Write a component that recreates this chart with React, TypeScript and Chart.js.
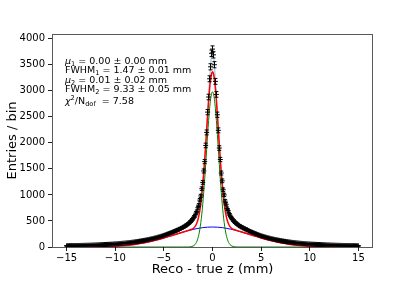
import React, { useEffect, useRef } from "react";
import { Chart, registerables } from "chart.js";

Chart.register(...registerables);

// Histogram binning (bin centres from -15 to 15 mm)
const BIN_START = -15;
const BIN_WIDTH = 0.1;

// Entries per bin (x = -15.0 ... 15.0)
const counts = [
  23, 24, 24, 25, 25, 26, 26, 26, 27, 27,
  28, 28, 29, 29, 30, 30, 31, 31, 32, 32,
  33, 33, 34, 35, 35, 36, 36, 37, 38, 39,
  39, 40, 41, 42, 42, 44, 44, 45, 46, 47,
  48, 49, 50, 51, 52, 53, 54, 55, 57, 58,
  59, 61, 62, 64, 65, 68, 68, 71, 72, 74,
  75, 78, 79, 82, 83, 87, 87, 91, 92, 95,
  97, 101, 102, 106, 108, 112, 114, 119, 120, 126,
  127, 133, 134, 141, 142, 149, 150, 157, 159, 165,
  168, 175, 177, 185, 187, 196, 198, 206, 209, 218,
  222, 231, 236, 244, 250, 258, 265, 272, 280, 286,
  295, 302, 310, 320, 324, 338, 341, 356, 359, 375,
  379, 397, 400, 420, 426, 448, 457, 482, 494, 524,
  540, 578, 598, 650, 685, 755, 805, 900, 980, 1120,
  1240, 1460, 1640, 1950, 2200, 2590, 2880, 3230, 3460, 3720,
  3800, 3690, 3500, 3180, 2930, 2540, 2240, 1900, 1680, 1420,
  1270, 1100, 1000, 880, 820, 740, 700, 640, 610, 565,
  550, 515, 502, 472, 465, 440, 434, 410, 407, 388,
  385, 368, 364, 348, 346, 330, 328, 312, 306, 297,
  288, 283, 271, 268, 256, 252, 242, 238, 227, 224,
  214, 211, 203, 199, 192, 189, 181, 179, 171, 169,
  162, 160, 153, 151, 145, 143, 137, 136, 129, 128,
  122, 121, 115, 114, 109, 108, 103, 102, 98, 97,
  92, 92, 88, 87, 84, 83, 79, 79, 75, 75,
  72, 71, 68, 68, 65, 65, 62, 62, 59, 59,
  57, 56, 54, 54, 52, 52, 50, 50, 48, 48,
  46, 46, 44, 45, 42, 43, 41, 41, 39, 40,
  38, 38, 36, 37, 35, 35, 34, 34, 33, 33,
  32, 31, 31, 30, 30, 29, 29, 28, 28, 27,
  27, 26, 26, 25, 25, 25, 24, 24, 23, 23,
  22,
];

// Narrow Gaussian component (green)
const greenX = [
  -15, -3, -2.6, -2.4, -2.2, -2.0, -1.9, -1.8, -1.7, -1.6, -1.5, -1.4, -1.3,
  -1.2, -1.1, -1.0, -0.9, -0.8, -0.7, -0.6, -0.5, -0.4, -0.3, -0.2, -0.1, 0,
  0.1, 0.2, 0.3, 0.4, 0.5, 0.6, 0.7, 0.8, 0.9, 1.0, 1.1, 1.2, 1.3, 1.4, 1.5,
  1.6, 1.7, 1.8, 1.9, 2.0, 2.2, 2.4, 2.6, 3, 15,
];
const greenY = [
  0, 0, 0.5, 1.8, 6, 17.5, 28.9, 46.5, 72.9, 111, 166, 241, 340,
  469, 630, 825, 1053, 1310, 1589, 1877, 2162, 2427, 2655, 2831, 2942, 2980,
  2942, 2831, 2655, 2427, 2162, 1877, 1589, 1310, 1053, 825, 630, 469, 340, 241, 166,
  111, 72.9, 46.5, 28.9, 17.5, 6, 1.8, 0.5, 0, 0,
];

// Wide Gaussian component (blue)
const blueX = [
  -15, -14, -13, -12, -11, -10, -9, -8, -7, -6, -5, -4, -3, -2.5, -2, -1.5,
  -1, -0.5, 0, 0.5, 1, 1.5, 2, 2.5, 3, 4, 5, 6, 7, 8, 9, 10, 11, 12, 13, 14, 15,
];
const blueY = [
  0.3, 0.75, 1.77, 3.92, 8.15, 15.9, 29.1, 50, 80.7, 122, 173, 231, 288, 315, 338, 357,
  372, 381, 384, 381, 372, 357, 338, 315, 288, 231, 173, 122, 80.7, 50, 29.1, 15.9, 8.15, 3.92, 1.77, 0.75, 0.3,
];

// Total fit (red)
const redX = [
  -15, -14, -13, -12, -11, -10, -9, -8, -7, -6, -5, -4, -3, -2.6, -2.4, -2.2,
  -2.0, -1.9, -1.8, -1.7, -1.6, -1.5, -1.4, -1.3, -1.2, -1.1, -1.0, -0.9, -0.8,
  -0.7, -0.6, -0.5, -0.4, -0.3, -0.2, -0.1, 0, 0.1, 0.2, 0.3, 0.4, 0.5, 0.6,
  0.7, 0.8, 0.9, 1.0, 1.1, 1.2, 1.3, 1.4, 1.5, 1.6, 1.7, 1.8, 1.9, 2.0, 2.2,
  2.4, 2.6, 3, 4, 5, 6, 7, 8, 9, 10, 11, 12, 13, 14, 15,
];
const redY = [
  0.3, 0.75, 1.77, 3.92, 8.15, 15.9, 29.1, 50, 80.7, 122, 173, 231, 288, 310, 322, 335,
  355, 371, 392, 423, 465, 523, 602, 704, 836, 1000, 1197, 1427, 1686,
  1967, 2256, 2543, 2809, 3038, 3214, 3326, 3364, 3326, 3214, 3038, 2809, 2543, 2256,
  1967, 1686, 1427, 1197, 1000, 836, 704, 602, 523, 465, 423, 392, 371, 355, 335,
  322, 310, 288, 231, 173, 122, 80.7, 50, 29.1, 15.9, 8.15, 3.92, 1.77, 0.75, 0.3,
];

const xTicks = [-15, -10, -5, 0, 5, 10, 15];
const yTicks = [0, 500, 1000, 1500, 2000, 2500, 3000, 3500, 4000];

const X_MIN = -16.5;
const X_MAX = 16.5;
const Y_MIN = 0;
const Y_MAX = 4090;

const xTitle = "Reco - true z (mm)";
const yTitle = "Entries / bin";

type Seg = { t: string; italic?: boolean; sub?: boolean; sup?: boolean };
const infoLines: Seg[][] = [
  [{ t: "μ", italic: true }, { t: "1", sub: true }, { t: " = 0.00 ± 0.00 mm" }],
  [{ t: "FWHM" }, { t: "1", sub: true }, { t: " = 1.47 ± 0.01 mm" }],
  [{ t: "μ", italic: true }, { t: "2", sub: true }, { t: " = 0.01 ± 0.02 mm" }],
  [{ t: "FWHM" }, { t: "2", sub: true }, { t: " = 9.33 ± 0.05 mm" }],
  [
    { t: "χ", italic: true },
    { t: "2", sup: true },
    { t: "/N" },
    { t: "dof", sub: true },
    { t: "  = 7.58" },
  ],
];

const FONT = '"DejaVu Sans", sans-serif';
const DATA_INDEX = 0;

function toPts(xs: number[], ys: number[]) {
  return xs.map((x, i) => ({ x, y: ys[i] }));
}

function drawRich(ctx: CanvasRenderingContext2D, x: number, y: number, segs: Seg[], size: number) {
  let cx = x;
  for (const s of segs) {
    const small = s.sub || s.sup;
    const fs = small ? size * 0.7 : size;
    ctx.font = `${s.italic ? "italic " : ""}${fs}px ${FONT}`;
    const dy = s.sub ? size * 0.22 : s.sup ? -size * 0.38 : 0;
    ctx.fillText(s.t, cx, y + dy);
    cx += ctx.measureText(s.t).width;
  }
}

const decorPlugin = {
  id: "decor",
  afterDatasetDraw(chart: any, args: any) {
    if (args.index !== DATA_INDEX) return;
    const ctx = chart.ctx as CanvasRenderingContext2D;
    const xs = chart.scales.x;
    const ys = chart.scales.y;
    ctx.save();
    ctx.strokeStyle = "#000";
    ctx.lineWidth = 1;
    ctx.beginPath();
    counts.forEach((c, i) => {
      const xv = BIN_START + i * BIN_WIDTH;
      const err = Math.sqrt(c);
      const px = xs.getPixelForValue(xv);
      const top = ys.getPixelForValue(c + err);
      const bot = ys.getPixelForValue(Math.max(0, c - err));
      ctx.moveTo(px, top);
      ctx.lineTo(px, bot);
      ctx.moveTo(px - 2, top);
      ctx.lineTo(px + 2, top);
      ctx.moveTo(px - 2, bot);
      ctx.lineTo(px + 2, bot);
    });
    ctx.stroke();
    ctx.restore();
  },
  afterDraw(chart: any) {
    const ctx = chart.ctx as CanvasRenderingContext2D;
    const a = chart.chartArea;
    ctx.save();
    // frame
    ctx.strokeStyle = "rgba(0,0,0,0.65)";
    ctx.lineWidth = 1;
    ctx.strokeRect(Math.round(a.left) + 0.5, Math.round(a.top) + 0.5, Math.round(a.right - a.left) - 1, Math.round(a.bottom - a.top));
    // axis titles
    ctx.fillStyle = "#000";
    ctx.font = `13px ${FONT}`;
    ctx.textAlign = "center";
    ctx.textBaseline = "middle";
    ctx.fillText(xTitle, (a.left + a.right) / 2, 270);
    ctx.save();
    ctx.translate(13, (a.top + a.bottom) / 2);
    ctx.rotate(-Math.PI / 2);
    ctx.fillText(yTitle, 0, 0);
    ctx.restore();
    // info text
    ctx.textAlign = "left";
    ctx.textBaseline = "alphabetic";
    const baselines = [63.5, 73, 82.5, 92, 103.5];
    infoLines.forEach((segs, i) => drawRich(ctx, 65, baselines[i], segs, 9.5));
    ctx.restore();
  },
};

export default function App() {
  const ref = useRef<HTMLCanvasElement | null>(null);
  useEffect(() => {
    if (!ref.current) return;
    const dataPts = counts.map((c, i) => ({ x: BIN_START + i * BIN_WIDTH, y: c }));
    const chart = new Chart(ref.current, {
      type: "scatter",
      data: {
        datasets: [
          {
            data: dataPts,
            showLine: false,
            pointStyle: "cross",
            pointRadius: 2.5,
            borderColor: "#000",
            backgroundColor: "#000",
            borderWidth: 1,
            order: 0,
          } as any,
          {
            data: toPts(redX, redY),
            showLine: true,
            borderColor: "#ff0000",
            borderWidth: 1.5,
            pointRadius: 0,
            cubicInterpolationMode: "monotone",
            order: 1,
          } as any,
          {
            data: toPts(greenX, greenY),
            showLine: true,
            borderColor: "#008000",
            borderWidth: 1,
            pointRadius: 0,
            cubicInterpolationMode: "monotone",
            order: 2,
          } as any,
          {
            data: toPts(blueX, blueY),
            showLine: true,
            borderColor: "#0000ff",
            borderWidth: 1,
            pointRadius: 0,
            cubicInterpolationMode: "monotone",
            order: 3,
          } as any,
          {
            data: dataPts,
            showLine: true,
            borderColor: "rgba(31,119,180,0.5)",
            borderWidth: 1,
            pointRadius: 0,
            order: 4,
          } as any,
        ],
      },
      options: {
        animation: false,
        responsive: false,
        devicePixelRatio: 1,
        events: [],
        layout: { padding: { top: 34, right: 42, left: 0, bottom: 0 } },
        plugins: { legend: { display: false }, tooltip: { enabled: false } },
        scales: {
          x: {
            type: "linear",
            min: X_MIN,
            max: X_MAX,
            afterFit: (s: any) => {
              s.height = 36;
            },
            afterBuildTicks: (s: any) => {
              s.ticks = xTicks.map((v) => ({ value: v }));
            },
            ticks: {
              font: { family: FONT, size: 10 },
              color: "#000",
              padding: 1,
              maxRotation: 0,
              autoSkip: false,
              callback: (v: any) => String(v).replace("-", "\u2212"),
            },
            grid: { drawOnChartArea: false, drawTicks: true, tickLength: 4, color: "#222" },
            border: { display: false },
          },
          y: {
            type: "linear",
            min: Y_MIN,
            max: Y_MAX,
            afterFit: (s: any) => {
              s.width = 52;
            },
            afterBuildTicks: (s: any) => {
              s.ticks = yTicks.map((v) => ({ value: v }));
            },
            ticks: {
              font: { family: FONT, size: 10 },
              color: "#000",
              padding: 3,
              autoSkip: false,
              callback: (v: any) => String(v),
            },
            grid: { drawOnChartArea: false, drawTicks: true, tickLength: 4, color: "#222" },
            border: { display: false },
          },
        },
      },
      plugins: [decorPlugin],
    });
    return () => chart.destroy();
  }, []);
  return (
    <div style={{ position: "absolute", left: 0, top: 0, width: 415, height: 283, background: "#fff" }}>
      <canvas ref={ref} width={415} height={283} style={{ width: 415, height: 283 }} />
    </div>
  );
}
